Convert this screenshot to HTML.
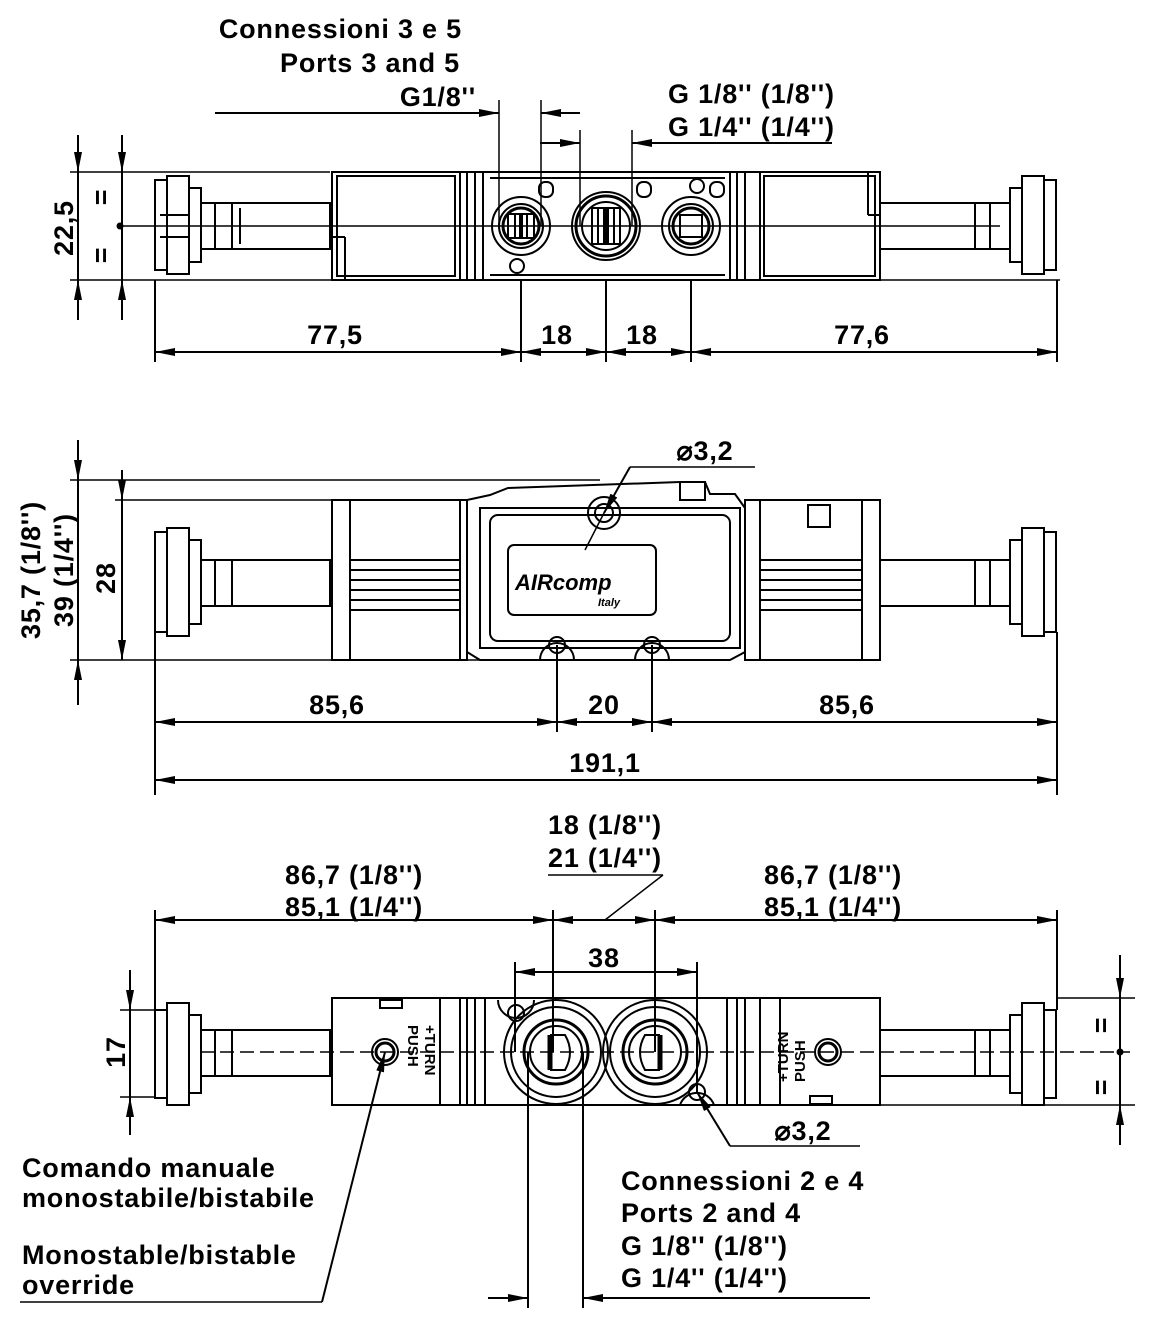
<!DOCTYPE html>
<html><head><meta charset="utf-8"><style>
html,body{margin:0;padding:0;background:#fff}
svg{display:block}
text{font-family:"Liberation Sans",Arial,sans-serif;font-weight:bold;font-size:27px;letter-spacing:0.8px;fill:#000}
</style></head><body>
<svg width="1149" height="1338" viewBox="0 0 1149 1338" xmlns="http://www.w3.org/2000/svg">
<defs>
<marker id="a" viewBox="0 0 20 8" refX="20" refY="4" markerWidth="20" markerHeight="8" orient="auto-start-reverse" markerUnits="userSpaceOnUse"><path d="M0,0 L20,4 L0,8 z" fill="#000"/></marker>
</defs>
<g stroke="#000" stroke-width="2" fill="none">

<!-- ========== TOP VIEW ========== -->
<rect x="155" y="180" width="12" height="90"/>
<rect x="167" y="176" width="22" height="98"/>
<rect x="189" y="188" width="12" height="74"/>
<line x1="160" y1="215" x2="189" y2="215"/><line x1="160" y1="237" x2="189" y2="237"/>
<rect x="201" y="203" width="129" height="46"/>
<line x1="215" y1="203" x2="215" y2="249"/><line x1="232" y1="203" x2="232" y2="249"/><line x1="240" y1="208" x2="240" y2="244"/>
<rect x="332" y="172" width="128" height="108"/>
<rect x="337" y="176" width="118" height="100"/>
<line x1="332" y1="237" x2="345" y2="237"/><line x1="345" y1="237" x2="345" y2="280"/>
<rect x="460" y="172" width="7" height="108"/>
<rect x="467" y="172" width="278" height="108"/>
<line x1="475" y1="172" x2="475" y2="280"/><line x1="483" y1="172" x2="483" y2="280"/>
<line x1="730" y1="172" x2="730" y2="280"/><line x1="737" y1="172" x2="737" y2="280"/>
<line x1="490" y1="178" x2="725" y2="178"/><line x1="490" y1="275" x2="725" y2="275"/>
<circle cx="521" cy="226" r="29"/><circle cx="521" cy="226" r="22"/><circle cx="521" cy="226" r="18" stroke-width="3"/>
<rect x="508" y="214" width="26" height="24"/><line x1="515" y1="214" x2="515" y2="238"/><line x1="521" y1="214" x2="521" y2="238" stroke-width="4"/><line x1="527" y1="214" x2="527" y2="238"/>
<circle cx="606" cy="226" r="34"/><circle cx="606" cy="226" r="30" stroke-width="3"/><circle cx="606" cy="226" r="24"/>
<rect x="592" y="208" width="28" height="36"/><line x1="606" y1="208" x2="606" y2="244" stroke-width="6"/><line x1="598" y1="208" x2="598" y2="244"/><line x1="614" y1="208" x2="614" y2="244"/>
<circle cx="691" cy="226" r="29"/><circle cx="691" cy="226" r="22"/><circle cx="691" cy="226" r="18" stroke-width="3"/>
<rect x="680" y="215" width="22" height="22"/>
<circle cx="517" cy="266" r="7"/><circle cx="697" cy="186" r="7"/>
<rect x="539" y="182" width="14" height="15" rx="6"/><rect x="637" y="182" width="14" height="15" rx="6"/><rect x="710" y="182" width="14" height="15" rx="6"/>
<rect x="745" y="172" width="15" height="108"/>
<rect x="760" y="172" width="120" height="108"/>
<rect x="764" y="176" width="111" height="100"/>
<line x1="880" y1="215" x2="868" y2="215"/><line x1="868" y1="215" x2="868" y2="172"/>
<rect x="880" y="203" width="130" height="46"/>
<line x1="975" y1="203" x2="975" y2="249"/><line x1="990" y1="203" x2="990" y2="249"/>
<rect x="1010" y="188" width="12" height="74"/>
<rect x="1022" y="176" width="22" height="98"/>
<rect x="1044" y="180" width="12" height="90"/>
<line x1="120" y1="226" x2="1000" y2="226" stroke-width="1.5"/>
<line x1="70" y1="172" x2="130" y2="172" stroke-width="1.5"/><line x1="70" y1="280" x2="1060" y2="280" stroke-width="1.5"/>
<line x1="130" y1="172" x2="330" y2="172" stroke-width="1.5"/>
<line x1="78" y1="135" x2="78" y2="172" marker-end="url(#a)"/><line x1="78" y1="320" x2="78" y2="280" marker-end="url(#a)"/>
<line x1="78" y1="172" x2="78" y2="280"/>
<line x1="122" y1="135" x2="122" y2="172" marker-end="url(#a)"/><line x1="122" y1="320" x2="122" y2="280" marker-end="url(#a)"/>
<line x1="122" y1="172" x2="122" y2="280"/>
<line x1="155" y1="280" x2="155" y2="362"/><line x1="521" y1="280" x2="521" y2="362"/><line x1="606" y1="280" x2="606" y2="362"/><line x1="691" y1="280" x2="691" y2="362"/><line x1="1057" y1="280" x2="1057" y2="362"/>
<line x1="155" y1="352" x2="521" y2="352" marker-start="url(#a)" marker-end="url(#a)"/>
<line x1="521" y1="352" x2="606" y2="352" marker-start="url(#a)" marker-end="url(#a)"/>
<line x1="606" y1="352" x2="691" y2="352" marker-start="url(#a)" marker-end="url(#a)"/>
<line x1="691" y1="352" x2="1057" y2="352" marker-start="url(#a)" marker-end="url(#a)"/>
<line x1="215" y1="113" x2="499" y2="113" marker-end="url(#a)"/>
<line x1="499" y1="100" x2="499" y2="226" stroke-width="1.5"/><line x1="541" y1="100" x2="541" y2="226" stroke-width="1.5"/>
<line x1="580" y1="113" x2="541" y2="113" marker-end="url(#a)"/>
<line x1="580" y1="130" x2="580" y2="226" stroke-width="1.5"/><line x1="632" y1="130" x2="632" y2="226" stroke-width="1.5"/>
<line x1="832" y1="143" x2="632" y2="143" marker-end="url(#a)"/>
<line x1="540" y1="143" x2="580" y2="143" marker-end="url(#a)"/>

<!-- ========== MIDDLE VIEW ========== -->
<rect x="155" y="532" width="12" height="100"/>
<rect x="167" y="528" width="22" height="108"/>
<rect x="189" y="540" width="12" height="84"/>
<rect x="201" y="560" width="129" height="46"/>
<line x1="215" y1="560" x2="215" y2="606"/><line x1="232" y1="560" x2="232" y2="606"/>
<rect x="332" y="500" width="128" height="160"/>
<line x1="350" y1="500" x2="350" y2="660"/>
<line x1="350" y1="560" x2="460" y2="560"/><line x1="350" y1="570" x2="460" y2="570"/><line x1="350" y1="580" x2="460" y2="580"/><line x1="350" y1="590" x2="460" y2="590"/><line x1="350" y1="600" x2="460" y2="600"/><line x1="350" y1="610" x2="460" y2="610"/>
<rect x="460" y="500" width="7" height="160"/>
<path d="M467,500 L490,495 L508,488 L680,482 L705,482 L710,494 L735,494 L745,508 L745,652 L730,660 L480,660 L467,652 Z"/>
<path d="M480,508 L740,508 L740,648 L480,648 Z"/>
<rect x="490" y="515" width="240" height="126" rx="8"/>
<rect x="508" y="545" width="148" height="70" rx="6"/>
<rect x="680" y="482" width="25" height="18"/>
<circle cx="604" cy="513" r="9"/><circle cx="604" cy="513" r="16"/>
<circle cx="557" cy="645" r="8"/><circle cx="652" cy="645" r="8"/>
<path d="M540,660 A17,17 0 0 1 574,660"/><path d="M635,660 A17,17 0 0 1 669,660"/>
<rect x="745" y="500" width="15" height="160"/>
<rect x="760" y="500" width="120" height="160"/>
<line x1="862" y1="500" x2="862" y2="660"/>
<line x1="760" y1="560" x2="862" y2="560"/><line x1="760" y1="570" x2="862" y2="570"/><line x1="760" y1="580" x2="862" y2="580"/><line x1="760" y1="590" x2="862" y2="590"/><line x1="760" y1="600" x2="862" y2="600"/><line x1="760" y1="610" x2="862" y2="610"/>
<rect x="808" y="505" width="22" height="22"/>
<rect x="880" y="560" width="130" height="46"/>
<line x1="975" y1="560" x2="975" y2="606"/><line x1="990" y1="560" x2="990" y2="606"/>
<rect x="1010" y="540" width="12" height="84"/>
<rect x="1022" y="528" width="22" height="108"/>
<rect x="1044" y="532" width="12" height="100"/>
<line x1="70" y1="480" x2="600" y2="480" stroke-width="1.5"/>
<line x1="115" y1="500" x2="332" y2="500" stroke-width="1.5"/>
<line x1="70" y1="660" x2="480" y2="660" stroke-width="1.5"/>
<line x1="78" y1="440" x2="78" y2="480" marker-end="url(#a)"/><line x1="78" y1="705" x2="78" y2="660" marker-end="url(#a)"/><line x1="78" y1="480" x2="78" y2="660"/>
<line x1="122" y1="470" x2="122" y2="500" marker-end="url(#a)"/><line x1="122" y1="500" x2="122" y2="660" marker-end="url(#a)"/>
<line x1="155" y1="632" x2="155" y2="795"/><line x1="1057" y1="632" x2="1057" y2="795"/>
<line x1="557" y1="645" x2="557" y2="732"/><line x1="652" y1="645" x2="652" y2="732"/>
<line x1="155" y1="722" x2="557" y2="722" marker-start="url(#a)" marker-end="url(#a)"/>
<line x1="557" y1="722" x2="652" y2="722" marker-start="url(#a)" marker-end="url(#a)"/>
<line x1="652" y1="722" x2="1057" y2="722" marker-start="url(#a)" marker-end="url(#a)"/>
<line x1="155" y1="780" x2="1057" y2="780" marker-start="url(#a)" marker-end="url(#a)"/>
<line x1="755" y1="467" x2="630" y2="467" stroke-width="1.5"/><line x1="630" y1="467" x2="604" y2="513" marker-end="url(#a)"/>
<line x1="604" y1="513" x2="585" y2="550" stroke-width="1.5"/>

<!-- ========== BOTTOM VIEW ========== -->
<rect x="155" y="1010" width="12" height="88"/>
<rect x="167" y="1003" width="22" height="102"/>
<rect x="189" y="1015" width="12" height="78"/>
<rect x="201" y="1030" width="129" height="46"/>
<line x1="215" y1="1030" x2="215" y2="1076"/><line x1="232" y1="1030" x2="232" y2="1076"/>
<rect x="332" y="998" width="128" height="107"/>
<line x1="440" y1="998" x2="440" y2="1105"/>
<rect x="380" y="1000" width="22" height="8"/>
<circle cx="385" cy="1052" r="13"/><circle cx="385" cy="1052" r="9" stroke-width="3"/>
<rect x="460" y="998" width="7" height="107"/>
<rect x="467" y="998" width="278" height="107"/>
<line x1="475" y1="998" x2="475" y2="1105"/><line x1="485" y1="998" x2="485" y2="1105"/>
<line x1="727" y1="998" x2="727" y2="1105"/><line x1="737" y1="998" x2="737" y2="1105"/>
<circle cx="556" cy="1052" r="52"/><circle cx="556" cy="1052" r="45"/><circle cx="556" cy="1052" r="32" stroke-width="3"/><circle cx="556" cy="1052" r="26"/>
<line x1="550" y1="1035" x2="550" y2="1070" stroke-width="5"/><path d="M550,1035 L565,1035 Q575,1052 565,1070 L550,1070"/>
<circle cx="655" cy="1052" r="52"/><circle cx="655" cy="1052" r="45"/><circle cx="655" cy="1052" r="32" stroke-width="3"/><circle cx="655" cy="1052" r="26"/>
<line x1="660" y1="1035" x2="660" y2="1070" stroke-width="5"/><path d="M660,1035 L645,1035 Q635,1052 645,1070 L660,1070"/>
<circle cx="516" cy="1013" r="8"/><path d="M498,1000 A18,18 0 0 0 534,1000"/>
<circle cx="697" cy="1092" r="8"/><path d="M680,1105 A18,18 0 0 1 714,1105"/>
<rect x="745" y="998" width="15" height="107"/>
<rect x="760" y="998" width="120" height="107"/>
<line x1="780" y1="998" x2="780" y2="1105"/>
<rect x="810" y="1096" width="22" height="8"/>
<circle cx="828" cy="1052" r="13"/><circle cx="828" cy="1052" r="9" stroke-width="3"/>
<rect x="880" y="1030" width="130" height="46"/>
<line x1="975" y1="1030" x2="975" y2="1076"/><line x1="990" y1="1030" x2="990" y2="1076"/>
<rect x="1010" y="1015" width="12" height="78"/>
<rect x="1022" y="1003" width="22" height="102"/>
<rect x="1044" y="1010" width="12" height="88"/>
<line x1="200" y1="1052" x2="1130" y2="1052" stroke-width="1.5" stroke-dasharray="14,6"/>
<line x1="155" y1="910" x2="155" y2="1010"/><line x1="1057" y1="910" x2="1057" y2="1010"/>
<line x1="553" y1="910" x2="553" y2="1052"/><line x1="655" y1="910" x2="655" y2="1052"/>
<line x1="155" y1="920" x2="553" y2="920" marker-start="url(#a)" marker-end="url(#a)"/>
<line x1="553" y1="920" x2="655" y2="920" marker-start="url(#a)" marker-end="url(#a)"/>
<line x1="655" y1="920" x2="1057" y2="920" marker-start="url(#a)" marker-end="url(#a)"/>
<line x1="548" y1="875" x2="663" y2="875" stroke-width="1.5"/><line x1="663" y1="875" x2="605" y2="920" stroke-width="1.5"/>
<line x1="515" y1="962" x2="515" y2="1052"/><line x1="697" y1="962" x2="697" y2="1092"/>
<line x1="515" y1="972" x2="697" y2="972" marker-start="url(#a)" marker-end="url(#a)"/>
<line x1="120" y1="1010" x2="155" y2="1010" stroke-width="1.5"/><line x1="120" y1="1097" x2="155" y2="1097" stroke-width="1.5"/>
<line x1="130" y1="970" x2="130" y2="1010" marker-end="url(#a)"/><line x1="130" y1="1135" x2="130" y2="1097" marker-end="url(#a)"/><line x1="130" y1="1010" x2="130" y2="1097"/>
<line x1="1057" y1="998" x2="1135" y2="998" stroke-width="1.5"/><line x1="880" y1="1105" x2="1135" y2="1105" stroke-width="1.5"/>
<line x1="1120" y1="955" x2="1120" y2="998" marker-end="url(#a)"/><line x1="1120" y1="1145" x2="1120" y2="1105" marker-end="url(#a)"/><line x1="1120" y1="998" x2="1120" y2="1105"/>
<line x1="528" y1="1052" x2="528" y2="1308"/><line x1="583" y1="1052" x2="583" y2="1308"/>
<line x1="488" y1="1298" x2="528" y2="1298" marker-end="url(#a)"/>
<line x1="870" y1="1298" x2="583" y2="1298" marker-end="url(#a)"/>
<line x1="860" y1="1146" x2="730" y2="1146" stroke-width="1.5"/><line x1="730" y1="1146" x2="697" y2="1092" marker-end="url(#a)"/>
<line x1="322" y1="1302" x2="20" y2="1302" stroke-width="1.5"/><line x1="322" y1="1302" x2="385" y2="1052" marker-end="url(#a)"/>
</g>

<circle cx="120" cy="226" r="3.5"/><circle cx="1120" cy="1052" r="3.5"/>

<text x="462" y="38" text-anchor="end">Connessioni 3 e 5</text>
<text x="460" y="72" text-anchor="end">Ports 3 and 5</text>
<text x="476" y="106" text-anchor="end">G1/8''</text>
<text x="668" y="103">G 1/8'' (1/8'')</text>
<text x="668" y="136">G 1/4'' (1/4'')</text>
<text x="335" y="344" text-anchor="middle">77,5</text>
<text x="557" y="344" text-anchor="middle">18</text>
<text x="642" y="344" text-anchor="middle">18</text>
<text x="862" y="344" text-anchor="middle">77,6</text>
<text transform="translate(73,228) rotate(-90)" text-anchor="middle">22,5</text>
<text transform="translate(110,197) rotate(-90)" text-anchor="middle">=</text>
<text transform="translate(110,255) rotate(-90)" text-anchor="middle">=</text>
<text x="705" y="460" text-anchor="middle">⌀3,2</text>
<text x="337" y="714" text-anchor="middle">85,6</text>
<text x="604" y="714" text-anchor="middle">20</text>
<text x="847" y="714" text-anchor="middle">85,6</text>
<text x="605" y="772" text-anchor="middle">191,1</text>
<text transform="translate(40,570) rotate(-90)" text-anchor="middle">35,7 (1/8'')</text>
<text transform="translate(73,570) rotate(-90)" text-anchor="middle">39 (1/4'')</text>
<text transform="translate(115,578) rotate(-90)" text-anchor="middle">28</text>
<text x="548" y="834">18 (1/8'')</text>
<text x="548" y="867">21 (1/4'')</text>
<text x="285" y="884">86,7 (1/8'')</text>
<text x="285" y="916">85,1 (1/4'')</text>
<text x="764" y="884">86,7 (1/8'')</text>
<text x="764" y="916">85,1 (1/4'')</text>
<text x="604" y="967" text-anchor="middle">38</text>
<text transform="translate(125,1052) rotate(-90)" text-anchor="middle">17</text>
<text transform="translate(1110,1025) rotate(-90)" text-anchor="middle">=</text>
<text transform="translate(1110,1087) rotate(-90)" text-anchor="middle">=</text>
<text x="803" y="1140" text-anchor="middle">⌀3,2</text>
<text x="22" y="1177">Comando manuale</text>
<text x="22" y="1207">monostabile/bistabile</text>
<text x="22" y="1264">Monostable/bistable</text>
<text x="22" y="1294">override</text>
<text x="621" y="1190">Connessioni 2 e 4</text>
<text x="621" y="1222">Ports 2 and 4</text>
<text x="621" y="1255">G 1/8'' (1/8'')</text>
<text x="621" y="1287">G 1/4'' (1/4'')</text>
<text transform="translate(408,1025) rotate(90)" style="font-size:15px;letter-spacing:0">PUSH</text>
<text transform="translate(425,1025) rotate(90)" style="font-size:15px;letter-spacing:0">+TURN</text>
<text transform="translate(805,1082) rotate(-90)" style="font-size:15px;letter-spacing:0">PUSH</text>
<text transform="translate(788,1082) rotate(-90)" style="font-size:15px;letter-spacing:0">+TURN</text>
<text x="515" y="590" style="font-size:22px;font-style:italic;letter-spacing:0">AIRcomp</text>
<text x="598" y="606" style="font-size:11px;font-style:italic;letter-spacing:0">Italy</text>
</svg>
</body></html>
